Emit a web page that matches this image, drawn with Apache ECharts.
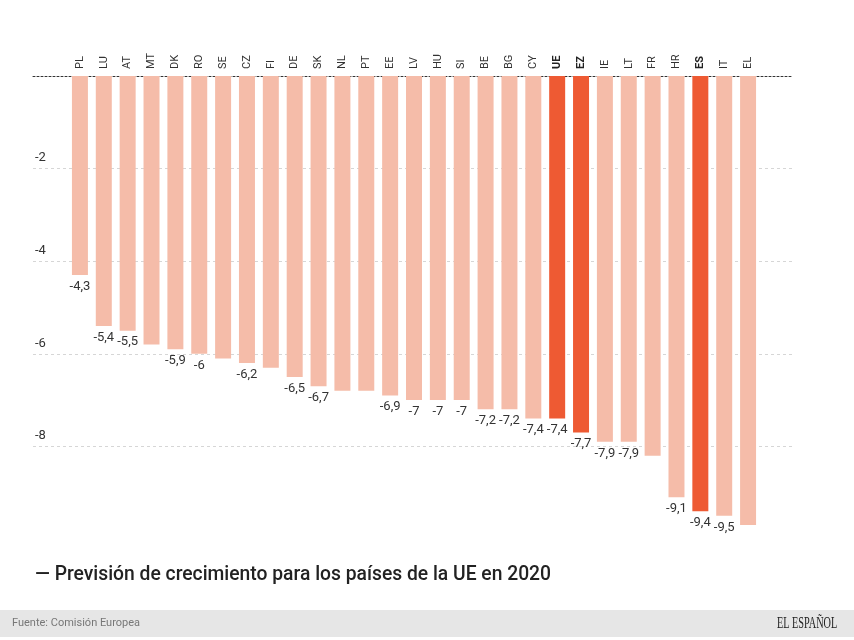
<!DOCTYPE html>
<html>
<head>
<meta charset="utf-8">
<script src="https://cdn.jsdelivr.net/npm/echarts@6/dist/echarts.min.js"></script>
<style>
html,body{margin:0;padding:0;background:#fff;}
#chart{width:854px;height:640px;}
</style>
</head>
<body>
<div id="chart"></div>
<script>
const categories = ['PL','LU','AT','MT','DK','RO','SE','CZ','FI','DE','SK','NL','PT','EE','LV','HU','SI','BE','BG','CY','UE','EZ','IE','LT','FR','HR','ES','IT','EL'];
const values = [-4.3,-5.4,-5.5,-5.8,-5.9,-6,-6.1,-6.2,-6.3,-6.5,-6.7,-6.8,-6.8,-6.9,-7,-7,-7,-7.2,-7.2,-7.4,-7.4,-7.7,-7.9,-7.9,-8.2,-9.1,-9.4,-9.5,-9.7];
const showLabel = [1,1,1,0,1,1,0,1,0,1,1,0,0,1,1,1,1,1,1,1,1,1,1,1,0,1,1,1,0];
const highlighted = ['UE','EZ','ES'];
const yTicks = [-10,-8,-6,-4,-2,0];
const titleText = '— Previsión de crecimiento para los países de la UE en 2020';
const sourceText = 'Fuente: Comisión Europea';
const brandText = 'EL ESPAÑOL';

const LIGHT = '#f5bca9';
const DARK = '#ee5a33';

const chart = echarts.init(document.getElementById('chart'), null, {renderer:'canvas'});

const barData = values.map((v, i) => ({
  value: v,
  itemStyle: { color: highlighted.includes(categories[i]) ? DARK : LIGHT },
  label: { show: !!showLabel[i] }
}));

chart.setOption({
  animation: false,
  backgroundColor: '#fff',
  textStyle: { fontFamily: 'Roboto, sans-serif' },
  grid: [
    { left: 33, right: 61, top: 76, height: 463, containLabel: false },
    { left: 68, right: 94, top: 76, height: 463, containLabel: false }
  ],
  xAxis: [
    {
      gridIndex: 0, type: 'value', position: 'top', min: 0, max: 1,
      axisLine: { show: true, lineStyle: { color: '#333', type: [2, 2], width: 1 } },
      axisTick: { show: false }, axisLabel: { show: false }, splitLine: { show: false }
    },
    {
      gridIndex: 1, type: 'category', data: categories, position: 'top',
      axisLine: { show: false }, axisTick: { show: false },
      axisLabel: {
        rotate: 90, margin: 7, fontSize: 11, color: '#333', interval: 0,
        fontFamily: 'Roboto, sans-serif',
        formatter: v => highlighted.includes(v) ? '{b|' + v + '}' : v,
        rich: { b: { fontWeight: 'bold', fontSize: 11, color: '#222' } }
      }
    }
  ],
  yAxis: [
    {
      gridIndex: 0, type: 'value', min: yTicks[0], max: yTicks[yTicks.length-1], interval: 2,
      axisLine: { show: false }, axisTick: { show: false },
      axisLabel: {
        inside: true, margin: 2, fontSize: 13, color: '#333',
        verticalAlign: 'bottom', padding: [0, 0, 4, 0],
        showMinLabel: false, showMaxLabel: false,
        formatter: v => String(v).replace('.', ',')
      },
      splitLine: {
        show: true,
        lineStyle: { color: ['rgba(0,0,0,0)', '#d6d6d6', '#d6d6d6', '#d6d6d6', '#d6d6d6', 'rgba(0,0,0,0)'], type: [3, 3], width: 1 }
      }
    },
    {
      gridIndex: 1, type: 'value', min: yTicks[0], max: yTicks[yTicks.length-1],
      show: false
    }
  ],
  series: [
    {
      type: 'bar', xAxisIndex: 1, yAxisIndex: 1,
      data: barData,
      barCategoryGap: '33%',
      label: {
        position: 'bottom', distance: 5, fontSize: 13, color: '#333',
        fontFamily: 'Roboto, sans-serif',
        formatter: p => String(p.value).replace('.', ',')
      }
    }
  ],
  graphic: [
    { type: 'rect', left: 0, top: 610, shape: { width: 854, height: 27 }, style: { fill: '#e6e6e6' }, silent: true },
    { type: 'text', left: 35, top: 566, style: { text: titleText, fontSize: 19.3, fontWeight: 500, fill: '#222', fontFamily: 'Roboto, sans-serif' } },
    { type: 'text', left: 12, top: 618, style: { text: sourceText, fontSize: 11, fill: '#777', fontFamily: 'Roboto, sans-serif' } },
    { type: 'text', x: 777, y: 616, style: { text: brandText, fontSize: 16, fill: '#222', fontFamily: '"Liberation Serif", serif' }, scaleX: 0.64 }
  ]
});
</script>
</body>
</html>
